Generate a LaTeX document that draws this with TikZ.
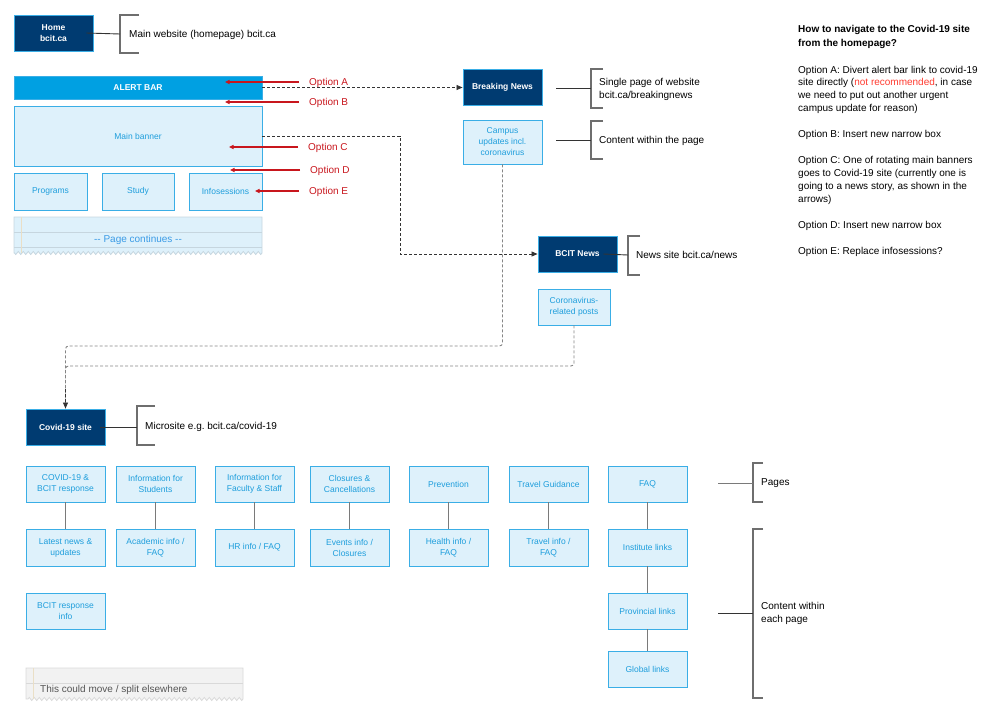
\documentclass[tikz,border=0pt]{standalone}
\usepackage{fontspec}
\setmainfont{Liberation Sans}
\usetikzlibrary{arrows.meta,decorations.pathmorphing,calc}
\definecolor{navy}{HTML}{003B71}
\definecolor{bord}{HTML}{3AAEE6}
\definecolor{lightfill}{HTML}{DEF1FB}
\definecolor{txtblue}{HTML}{1E9EDC}
\definecolor{pcblue}{HTML}{3A9BE6}
\definecolor{alertblue}{HTML}{00A0E2}
\definecolor{optred}{HTML}{C8161D}
\definecolor{notrec}{HTML}{FF3B30}
\definecolor{brkgray}{HTML}{6E6E6E}
\definecolor{conngray}{HTML}{7A7A7A}
\definecolor{dashdark}{HTML}{333333}
\definecolor{dashgray}{HTML}{858585}
\definecolor{pcborder}{HTML}{C6D6DF}
\definecolor{beige}{HTML}{EADFC6}
\definecolor{movefill}{HTML}{F2F2F2}
\definecolor{moveborder}{HTML}{D9D9D9}
\definecolor{movetext}{HTML}{555555}
\newcommand\boxfont{\fontsize{8.5}{11}\selectfont}
\newcommand\lblfont{\fontsize{10}{13}\selectfont}
\newcommand\dd{\mbox{-}\mbox{-}}
\frenchspacing
\begin{document}
\begin{tikzpicture}[x=1pt,y=-1pt,
  box/.style={draw=bord, line width=0.9pt, minimum width=79pt, minimum height=36pt, inner sep=1pt, align=center, font=\boxfont},
  dark/.style={box, fill=navy, text=white, font=\bfseries\boxfont},
  light/.style={box, fill=lightfill, text=txtblue},
  lbl/.style={font=\lblfont, inner sep=0pt, anchor=west, text height=7.2pt, text depth=0pt},
  mlbl/.style={font=\lblfont, inner sep=0pt, anchor=west, align=left},
  opt/.style={lbl, text=optred},
  redarr/.style={draw=optred, line width=1.2pt, shorten <=10pt, -{Triangle[length=4.5pt,width=4pt]}},
  dkdash/.style={draw=dashdark, line width=0.8pt, dash pattern=on 3pt off 2pt, -{Triangle[length=6pt,width=5pt]}},
  grdash/.style={draw=dashgray, line width=0.9pt, dash pattern=on 3pt off 2pt, rounded corners=3pt},
  bracketline/.style={draw=brkgray, line width=1.3pt},
  conn/.style={draw=dashdark, line width=0.9pt},
  vconn/.style={draw=conngray, line width=1pt}
]
\useasboundingbox (0,0) rectangle (1000,715);

% ---------- homepage mock ----------
\node[dark] (home) at (53.5,33) {Home\\bcit.ca};
\node[box, fill=alertblue, text=white, font=\bfseries\boxfont, minimum width=248pt, minimum height=23pt] (alert) at (138,87.5) {ALERT BAR};
\node[light, minimum width=248pt, minimum height=60pt] (banner) at (138,136) {Main banner};
\node[light, minimum width=73pt, minimum height=37pt] (prog) at (50.5,191.5) {Programs};
\node[light, minimum width=72pt, minimum height=37pt] (study) at (138,191.5) {Study};
\node[light, minimum width=73pt, minimum height=37pt] (infos) at (225.5,191.5) {Infosessions};

% page continues
\path[fill=lightfill, draw=pcborder, line width=0.8pt] (14,217) -- (262,217) -- (262,253)
  decorate[decoration={zigzag,segment length=5pt,amplitude=1.5pt}] {-- (14,253)} -- cycle;
\draw[pcborder, line width=0.7pt] (14,232) -- (262,232) (14,247) -- (262,247);
\draw[beige, line width=0.7pt] (21,217) -- (21,253);
\node[font=\lblfont, text=pcblue, inner sep=0pt, text height=7.2pt, text depth=0pt] (pc) at (138,238.5) {\dd{} Page continues \dd};

% ---------- options ----------
\node[opt] (oA) at (309,82) {Option A};
\node[opt] (oB) at (309,102) {Option B};
\node[opt] (oC) at (308,147) {Option C};
\node[opt] (oD) at (310,170) {Option D};
\node[opt] (oE) at (309,191) {Option E};
\coordinate (tA) at (225,82);
\coordinate (tB) at (225,102);
\coordinate (tC) at (229,147);
\coordinate (tD) at (230,170);
\coordinate (tE) at (255,191);
\draw[redarr] (oA.west) -- (tA);
\draw[redarr] (oB.west) -- (tB);
\draw[redarr] (oC.west) -- (tC);
\draw[redarr] (oD.west) -- (tD);
\draw[redarr] (oE.west) -- (tE);

% ---------- breaking news / news ----------
\node[dark] (brk) at (502.5,87) {Breaking News};
\node[light, minimum height=44pt] (campus) at (502.5,142) {Campus\\updates incl.\\coronavirus};
\node[dark] (bnews) at (577.5,254) {BCIT News};
\node[light, minimum width=72pt] (corona) at (574,307) {Coronavirus-\\related posts};
\node[dark] (covid) at (65.5,427) {Covid-19 site};

\draw[dkdash] (alert.east) -- (alert.east -| brk.west);
\coordinate (bend1) at (400,136);
\draw[dkdash] (banner.east) -- (bend1) |- (bnews.west);

\coordinate (lv1) at (0,346);
\coordinate (lv2) at (0,366);
\draw[grdash] (corona.south) |- (covid.north |- lv2) -- (covid.north);
\draw[grdash] (campus.south) |- (covid.north |- lv1) -- (covid.north);
\draw[draw=dashdark, line width=0.8pt, dash pattern=on 3pt off 2pt, -{Triangle[length=6pt,width=5pt]}] ($(covid.north)+(0,-20)$) -- (covid.north);

% ---------- brackets ----------
\draw[bracketline] (139,15) -- (120,15) -- (120,53) -- (139,53);
\coordinate (hb) at (120,34);
\draw[conn] ([xshift=-7pt]home.east) -- (hb);
\node[lbl] (hl) at (129,34) {Main website (homepage) bcit.ca};

\draw[bracketline] (603,69) -- (591,69) -- (591,108) -- (603,108);
\coordinate (bb0) at (556,88);
\coordinate (bb1) at (591,88);
\draw[conn] (bb0) -- (bb1);
\node[mlbl] (bl) at (599,89.5) {Single page of website\\bcit.ca/breakingnews};

\draw[bracketline] (603,121) -- (591,121) -- (591,159) -- (603,159);
\coordinate (cb0) at (556,140);
\coordinate (cb1) at (591,140);
\draw[conn] (cb0) -- (cb1);
\node[lbl] (cl) at (599,140) {Content within the page};

\draw[bracketline] (640,236) -- (628,236) -- (628,275) -- (640,275);
\coordinate (nb) at (628,255);
\draw[conn] ([xshift=-14pt]bnews.east) -- (nb);
\node[lbl] (nl) at (636,255) {News site bcit.ca/news};

\draw[bracketline] (155,406) -- (137,406) -- (137,445) -- (155,445);
\coordinate (mb) at (137,427);
\draw[conn] ([xshift=-5pt]covid.east) -- (mb);
\node[lbl] (ml) at (145,426) {Microsite e.g. bcit.ca/covid-19};

\draw[bracketline] (763,463) -- (753,463) -- (753,502) -- (763,502);
\coordinate (pb0) at (718,483);
\coordinate (pb1) at (753,483);
\draw[vconn] (pb0) -- (pb1);
\node[lbl] (pl) at (761,482) {Pages};

\draw[bracketline] (763,529) -- (753,529) -- (753,698) -- (763,698);
\coordinate (eb0) at (718,613);
\coordinate (eb1) at (753,613);
\draw[conn] (eb0) -- (eb1);
\node[mlbl] (el) at (761,613) {Content within\\each page};

% ---------- pages ----------
\node[light] (p1) at (65.5,484) {COVID-19 \&\\BCIT response};
\node[light] (p2) at (155.5,484) {Information for\\Students};
\node[light] (p3) at (254.5,484) {Information for\\Faculty \& Staff};
\node[light] (p4) at (349.5,484) {Closures \&\\Cancellations};
\node[light] (p5) at (448.5,484) {Prevention};
\node[light] (p6) at (548.5,484) {Travel Guidance};
\node[light] (p7) at (647.5,484) {FAQ};

\node[light, minimum height=37pt] (c1) at (65.5,547.5) {Latest news \&\\updates};
\node[light, minimum height=37pt] (c2) at (155.5,547.5) {Academic info /\\FAQ};
\node[light, minimum height=37pt] (c3) at (254.5,547.5) {HR info / FAQ};
\node[light, minimum height=37pt] (c4) at (349.5,547.5) {Events info /\\Closures};
\node[light, minimum height=37pt] (c5) at (448.5,547.5) {Health info /\\FAQ};
\node[light, minimum height=37pt] (c6) at (548.5,547.5) {Travel info /\\FAQ};
\node[light, minimum height=37pt] (c7) at (647.5,547.5) {Institute links};
\node[light] (c1b) at (65.5,611) {BCIT response\\info};
\node[light] (c7b) at (647.5,611) {Provincial links};
\node[light] (c7c) at (647.5,669) {Global links};

\foreach \i in {1,...,7} {\draw[vconn] (p\i) -- (c\i);}
\draw[vconn] (c7) -- (c7b);
\draw[vconn] (c7b) -- (c7c);

% ---------- this could move ----------
\path[fill=movefill, draw=moveborder, line width=0.8pt] (26,668) -- (243,668) -- (243,699)
  decorate[decoration={zigzag,segment length=5pt,amplitude=1.5pt}] {-- (26,699)} -- cycle;
\draw[moveborder, line width=0.7pt] (26,683) -- (243,683);
\draw[beige, line width=0.7pt] (33,668) -- (33,699);
\node[lbl, text=movetext] (mv) at (40,689) {This could move / split elsewhere};

% ---------- right-hand notes ----------
\node[lbl, font=\bfseries\lblfont] (h1) at (798,29) {How to navigate to the Covid-19 site};
\node[lbl, font=\bfseries\lblfont] (h2) at (798,43) {from the homepage?};
\node[lbl] (t1) at (798,70) {Option A: Divert alert bar link to covid-19};
\node[lbl] (t2) at (798,82) {site directly (\textcolor{notrec}{not recommended}, in case};
\node[lbl] (t3) at (798,95) {we need to put out another urgent};
\node[lbl] (t4) at (798,108) {campus update for reason)};
\node[lbl] (t5) at (798,134) {Option B: Insert new narrow box};
\node[lbl] (t6) at (798,160) {Option C: One of rotating main banners};
\node[lbl] (t7) at (798,173) {goes to Covid-19 site (currently one is};
\node[lbl] (t8) at (798,186) {going to a news story, as shown in the};
\node[lbl] (t9) at (798,199) {arrows)};
\node[lbl] (t10) at (798,225) {Option D: Insert new narrow box};
\node[lbl] (t11) at (798,251) {Option E: Replace infosessions?};
\end{tikzpicture}
\end{document}
